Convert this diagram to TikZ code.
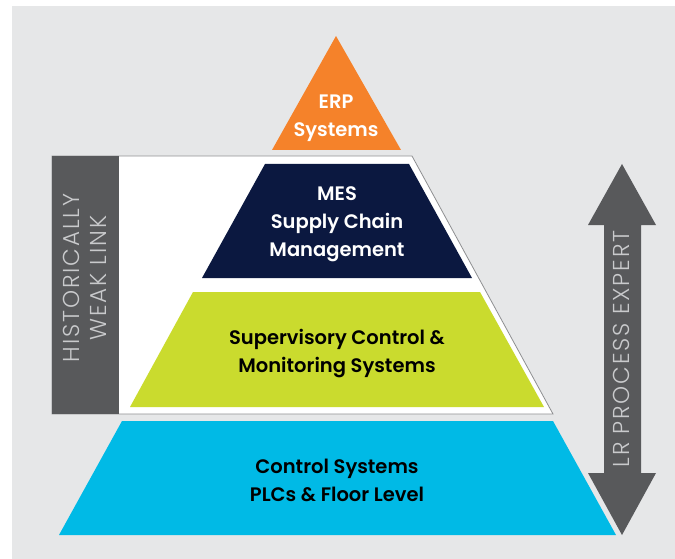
\documentclass[tikz,border=0pt]{standalone}
\usepackage{fontspec}
\usepackage{tikz}
\setmainfont{Poppins}
\newfontfamily\medfont{Poppins SemiBold}
\newfontfamily\lightfont{Poppins Light}[LetterSpace=8]
\definecolor{bggray}{HTML}{E6E7E8}
\definecolor{boxgray}{HTML}{58595B}
\definecolor{linegray}{HTML}{8E8F91}
\definecolor{erporange}{HTML}{F5822A}
\definecolor{mesnavy}{HTML}{0B1840}
\definecolor{supgreen}{HTML}{CADB2E}
\definecolor{plccyan}{HTML}{00BAE6}
\definecolor{softtext}{HTML}{C9CACC}
\tikzset{
  lbl/.style={align=center, inner sep=0pt, font=\medfont\fontsize{19.5}{28}\selectfont},
  side/.style={align=center, inner sep=0pt, text=softtext, font=\lightfont\fontsize{23}{27}\selectfont}
}

\begin{document}
\begin{tikzpicture}[x=1pt, y=-1pt]
\useasboundingbox (0,0) rectangle (675,559);
\fill[bggray] (12,6) rectangle (675,559);
\coordinate (W1) at (119,156) ;
\coordinate (W2) at (412,156) ;
\coordinate (W3) at (553,414) ;
\coordinate (W4) at (52,414) ;
\coordinate (W5) at (52,156) ;
\draw[linegray, fill=white, line width=0.8pt] (W5) -- (W2) -- (W3) -- (W4) -- cycle ;
\fill[boxgray] (W5) rectangle (W1 |- W3) ;
\fill[erporange] (336,36) -- (401,150) -- (272,150) -- cycle ;
\fill[mesnavy] (265,164) -- (409,164) -- (472,278) -- (202,278) -- cycle ;
\fill[supgreen] (193,292) -- (480,292) -- (544,407) -- (130,407) -- cycle ;
\fill[plccyan] (122,421) -- (553,421) -- (616,535) -- (59,535) -- cycle ;
\fill[boxgray] (622,164) -- (656,225) -- (641,225) -- (641,473) -- (656,473)
  -- (622,535) -- (588,473) -- (604,473) -- (604,225) -- (588,225) -- cycle ;
\node[lbl, text=white] (erp) at (336,118) {ERP\\Systems} ;
\node[lbl, text=white] (mes) at (337,224) {MES\\Supply Chain\\Management} ;
\node[lbl, text=black] (sup) at (337,354) {Supervisory Control \&\\Monitoring Systems} ;
\node[lbl, text=black] (plc) at (337,480) {Control Systems\\PLCs \& Floor Level} ;
\node[side, rotate=90] (weak) at (85,278) {HISTORICALLY\\WEAK LINK} ;
\node[side, rotate=90] (expert) at (621,349) {LR PROCESS EXPERT} ;
\end{tikzpicture}
\end{document}
